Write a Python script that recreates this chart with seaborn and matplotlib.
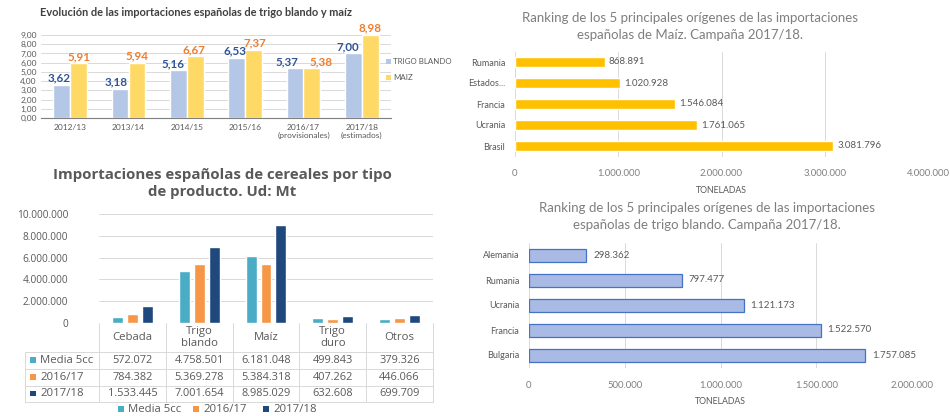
import numpy as np
import pandas as pd
import matplotlib
matplotlib.use("Agg")
import matplotlib.pyplot as plt
import seaborn as sns
from matplotlib.patches import Rectangle
from matplotlib.lines import Line2D
from matplotlib.ticker import FuncFormatter, MultipleLocator

# ---------------- data ----------------
campanas = ["2012/13", "2013/14", "2014/15", "2015/16",
            "2016/17\n(provisionales)", "2017/18\n(estimados)"]
trigo_blando = [3.62, 3.18, 5.16, 6.53, 5.37, 7.00]
maiz = [5.91, 5.94, 6.67, 7.37, 5.38, 8.98]

tipos = ["Cebada", "Trigo\nblando", "Maíz", "Trigo\nduro", "Otros"]
series2 = ["Media 5cc", "2016/17", "2017/18"]
media_5cc = [572072, 4758501, 6181048, 499843, 379326]
c2016_17 = [784382, 5369278, 5384318, 407262, 446066]
c2017_18 = [1533445, 7001654, 8985029, 632608, 699709]

paises_maiz = ["Rumania", "Estados...", "Francia", "Ucrania", "Brasil"]
toneladas_maiz = [868891, 1020928, 1546084, 1761065, 3081796]

paises_trigo = ["Alemania", "Rumania", "Ucrania", "Francia", "Bulgaria"]
toneladas_trigo = [298362, 797477, 1121173, 1522570, 1757085]

# ---------------- setup ----------------
sns.set_theme(style="white")
plt.rcParams['font.family'] = ['Lato', 'DejaVu Sans']
OS = ['Open Sans', 'DejaVu Sans']

W, H = 950, 416
fig = plt.figure(figsize=(9.5, 4.16), dpi=100)
GRID = "#D9D9D9"
TXT = "#595959"


def ax_px(x0, y0, x1, y1):
    return fig.add_axes([x0 / W, 1 - y1 / H, (x1 - x0) / W, (y1 - y0) / H])


def ftext(x, y, s, **kw):
    return fig.text(x / W, 1 - y / H, s, **kw)


def fline(x0, y0, x1, y1, **kw):
    fig.add_artist(Line2D([x0 / W, x1 / W], [1 - y0 / H, 1 - y1 / H], **kw))


def fsquare(x, y, size, color):
    fig.add_artist(Rectangle((x / W, 1 - (y + size) / H), size / W, size / H,
                             transform=fig.transFigure, color=color, lw=0))


def es_int(v, pos=None):
    return f"{v:,.0f}".replace(",", ".")


def es_dec(v, pos=None):
    return f"{v:.2f}".replace(".", ",")


# ================= Panel 1 =================
df1 = pd.DataFrame({
    "campana": campanas * 2,
    "serie": ["TRIGO BLANDO"] * len(campanas) + ["MAIZ"] * len(campanas),
    "valor": trigo_blando + maiz,
})
ax1 = ax_px(41, 35, 391, 118)
sns.barplot(data=df1, x="campana", y="valor", hue="serie",
            palette=["#B4C7E7", "#FFD966"], width=0.58, ax=ax1,
            legend=False, saturation=1)
ax1.set_ylim(0, 9)
ax1.set_xlim(-0.5, 5.5)
ax1.yaxis.set_major_locator(MultipleLocator(1))
ax1.yaxis.set_major_formatter(FuncFormatter(es_dec))
ax1.set_axisbelow(True)
ax1.grid(axis="y", color=GRID, lw=0.7)
ax1.set_xlabel("")
ax1.set_ylabel("")
for s in ["top", "right", "left"]:
    ax1.spines[s].set_visible(False)
ax1.spines["bottom"].set_color("#7F7F7F")
ax1.spines["bottom"].set_linewidth(0.8)
ax1.tick_params(axis="y", labelsize=6, colors=TXT, length=0, pad=3)
ax1.tick_params(axis="x", labelsize=6, colors=TXT, length=0, pad=4)
ax1.set_xticks(np.arange(-0.5, 6, 1), minor=True)
ax1.tick_params(axis="x", which="minor", length=3, color="#7F7F7F", width=0.8)
# horizontal nudges (px) of the value labels, as in the reference
shift_blue = [-3, -4, -5, -2, -8, -6]
shift_orange = [0, 0, -1, 1, 9, 0]
for cont, col, shifts in zip(ax1.containers, ["#2F5597", "#ED7D31"],
                             [shift_blue, shift_orange]):
    anns = ax1.bar_label(cont, labels=[es_dec(b.get_height()) for b in cont],
                         color=col, fontsize=8.4, fontweight="bold", padding=1)
    for a, dx in zip(anns, shifts):
        a.xyann = (dx * 0.72, a.xyann[1])
ftext(40, 12, "Evolución de las importaciones españolas de trigo blando y maíz",
      fontsize=7.9, fontweight="bold", color="#404040", va="center", ha="left")
fsquare(386, 58.5, 5, "#B4C7E7")
ftext(393, 61, "TRIGO BLANDO", fontsize=5.7, color=TXT, va="center")
fsquare(386, 74.5, 5, "#FFD966")
ftext(393, 77, "MAIZ", fontsize=5.7, color=TXT, va="center")

# ================= Panel 2 =================
df2 = pd.DataFrame({
    "tipo": tipos * 3,
    "serie": [series2[0]] * 5 + [series2[1]] * 5 + [series2[2]] * 5,
    "valor": media_5cc + c2016_17 + c2017_18,
})
pal2 = ["#4BACC6", "#F79646", "#1F497D"]
X0, X1 = 99, 433
ax2 = ax_px(X0, 214, X1, 323)
sns.barplot(data=df2, x="tipo", y="valor", hue="serie", palette=pal2,
            width=0.67, gap=0.27, ax=ax2, legend=False, saturation=1)
ax2.set_ylim(0, 10_000_000)
ax2.set_xlim(-0.5, 4.5)
ax2.yaxis.set_major_locator(MultipleLocator(2_000_000))
ax2.yaxis.set_major_formatter(FuncFormatter(es_int))
ax2.set_axisbelow(True)
ax2.grid(axis="y", color=GRID, lw=0.7)
ax2.set_xlabel("")
ax2.set_ylabel("")
ax2.set_xticks([])
sns.despine(ax=ax2, left=True, bottom=True)
ax2.tick_params(axis="y", labelsize=7.3, colors=TXT, length=0, pad=22)
for lab in ax2.get_yticklabels():
    lab.set_family(OS)
ftext(222, 175, "Importaciones españolas de cereales por tipo",
      fontsize=10.8, fontweight="bold", color=TXT, ha="center", va="center", family=OS)
ftext(222, 192, "de producto. Ud: Mt",
      fontsize=10.8, fontweight="bold", color=TXT, ha="center", va="center", family=OS)

# data table
colw = (X1 - X0) / 5
rows_y = [352, 368.5, 385.5, 402]
for k in range(6):
    fline(X0 + k * colw, 323, X0 + k * colw, 402, color=GRID, lw=0.7)
fline(25, 352, 25, 402, color=GRID, lw=0.7)
for yy in rows_y:
    fline(25, yy, X1, yy, color=GRID, lw=0.7)
for k, t in enumerate(tipos):
    ftext(X0 + (k + 0.5) * colw, 337.5, t, fontsize=8.2, color=TXT,
          ha="center", va="center", linespacing=1.1, family=OS)
for r, (name, vals, col) in enumerate(zip(series2, [media_5cc, c2016_17, c2017_18], pal2)):
    yc = (rows_y[r] + rows_y[r + 1]) / 2
    fsquare(30, yc - 3, 5.5, col)
    ftext(40, yc, name, fontsize=8.2, color=TXT, va="center", ha="left", family=OS)
    for k, v in enumerate(vals):
        ftext(X0 + (k + 0.5) * colw, yc, es_int(v), fontsize=7.9, color=TXT,
              ha="center", va="center", family=OS)
# bottom legend
for name, col, sx in zip(series2, pal2, [118, 193, 263]):
    fsquare(sx, 406, 5.5, col)
    ftext(sx + 10, 409, name, fontsize=8.2, color=TXT, va="center", ha="left", family=OS)

# ================= Panel 3 =================
df3 = pd.DataFrame({"pais": paises_maiz, "t": toneladas_maiz})
ax3 = ax_px(515, 51.5, 928, 156.5)
sns.barplot(data=df3, x="t", y="pais", color="#FFC000", width=0.52,
            orient="h", ax=ax3, saturation=1)
ax3.set_xlim(0, 4_000_000)
ax3.xaxis.set_major_locator(MultipleLocator(1_000_000))
ax3.xaxis.set_major_formatter(FuncFormatter(es_int))
ax3.set_axisbelow(True)
ax3.grid(axis="x", color=GRID, lw=0.7)
sns.despine(ax=ax3, left=True, bottom=True)
ax3.set_ylabel("")
ax3.set_xlabel("TONELADAS", fontsize=6.3, color=TXT, labelpad=6)
ax3.tick_params(axis="y", labelsize=6.5, colors=TXT, length=0, pad=7)
ax3.tick_params(axis="x", labelsize=6.8, colors="#7F7F7F", length=0, pad=9)
ax3.bar_label(ax3.containers[0], labels=[es_int(v) for v in toneladas_maiz],
              fontsize=7, color=TXT, padding=3)
ftext(690, 18, "Ranking de los 5 principales orígenes de las importaciones",
      fontsize=9.5, color="#7F7F7F", ha="center", va="center")
ftext(690, 35, "españolas de Maíz. Campaña 2017/18.",
      fontsize=9.5, color="#7F7F7F", ha="center", va="center")

# ================= Panel 4 =================
df4 = pd.DataFrame({"pais": paises_trigo, "t": toneladas_trigo})
ax4 = ax_px(529, 242.5, 912, 367.5)
sns.barplot(data=df4, x="t", y="pais", color="#A9BBE4", width=0.52,
            orient="h", ax=ax4, saturation=1, edgecolor="#4472C4", linewidth=0.9)
ax4.set_xlim(0, 2_000_000)
ax4.xaxis.set_major_locator(MultipleLocator(500_000))
ax4.xaxis.set_major_formatter(FuncFormatter(es_int))
ax4.set_axisbelow(True)
ax4.grid(axis="x", color=GRID, lw=0.7)
sns.despine(ax=ax4, left=True, bottom=True)
ax4.set_ylabel("")
ax4.set_xlabel("TONELADAS", fontsize=6.3, color=TXT, labelpad=5)
ax4.tick_params(axis="y", labelsize=6.5, colors=TXT, length=0, pad=7)
ax4.tick_params(axis="x", labelsize=6.8, colors="#7F7F7F", length=0, pad=10)
ax4.bar_label(ax4.containers[0], labels=[es_int(v) for v in toneladas_trigo],
              fontsize=7, color=TXT, padding=5)
ftext(707, 208, "Ranking de los 5 principales orígenes de las importaciones",
      fontsize=9.5, color="#7F7F7F", ha="center", va="center")
ftext(707, 225, "españolas de trigo blando. Campaña 2017/18.",
      fontsize=9.5, color="#7F7F7F", ha="center", va="center")

fig.savefig("out.png", dpi=100)
